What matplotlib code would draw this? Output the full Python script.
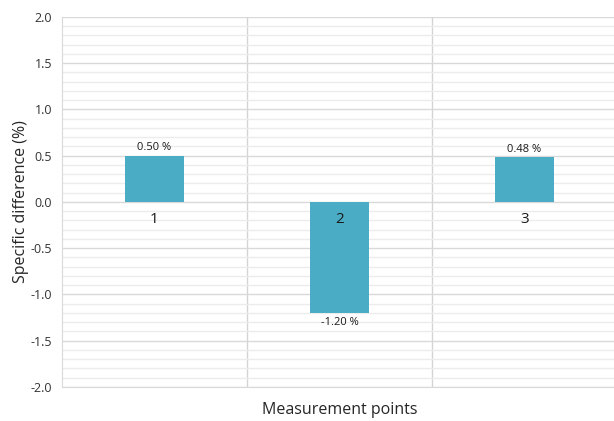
import numpy as np
import matplotlib
matplotlib.use("Agg")
import matplotlib.pyplot as plt
from matplotlib.ticker import MultipleLocator

plt.rcParams['font.family'] = ['Open Sans', 'DejaVu Sans']
plt.rcParams['axes.unicode_minus'] = False

points = ['1', '2', '3']
diffs = [0.50, -1.20, 0.48]
value_labels = ['0.50 %', '-1.20 %', '0.48 %']

bar_color = '#4bacc6'

fig = plt.figure(figsize=(6.14, 4.21), dpi=100)
ax = fig.add_axes([0.101, 0.081, 0.904, 0.879])

x = np.arange(1, len(points) + 1)
ax.bar(x, diffs, width=0.32, color=bar_color, zorder=3)

ax.set_xlim(0.5, 3.5)
ax.set_ylim(-2.0, 2.0)
ax.yaxis.set_major_locator(MultipleLocator(0.5))
ax.yaxis.set_minor_locator(MultipleLocator(0.1))
ax.yaxis.set_major_formatter(plt.FormatStrFormatter('%.1f'))

# horizontal grid, light minor lines under darker major ones
ax.grid(axis='y', which='major', color='#d9d9d9', linewidth=1.0, zorder=1)
ax.grid(axis='y', which='minor', color='#ececec', linewidth=1.0, zorder=0)
for xb in [1.5, 2.5, 3.5]:
    ax.axvline(xb, color='#d4d4d4', linewidth=1.0, zorder=1)

ax.set_xticks([])
ax.tick_params(axis='y', which='both', length=0, labelsize=9, colors='#333333', pad=7)

for s in ['top', 'right']:
    ax.spines[s].set_visible(False)
ax.spines['left'].set_color('#d9d9d9')
ax.spines['bottom'].set_color('#d9d9d9')

# category names sit just under the zero line
for xi, name in zip(x, points):
    ax.annotate(name, (xi, 0), xytext=(0, -7), textcoords='offset points',
                ha='center', va='top', fontsize=11, color='#1a1a1a', zorder=4)

for xi, v, lab in zip(x, diffs, value_labels):
    off = 2 if v >= 0 else -3
    ax.annotate(lab, (xi, v), xytext=(0, off), textcoords='offset points',
                ha='center', va='bottom' if v >= 0 else 'top',
                fontsize=8, color='#1a1a1a', zorder=4)

ax.set_ylabel('Specific difference (%)', fontsize=11.5, color='#262626', labelpad=1)
fig.text(0.554, 0.025, 'Measurement points', ha='center', va='center',
         fontsize=11.5, color='#262626')

fig.savefig('out.png', dpi=100)
